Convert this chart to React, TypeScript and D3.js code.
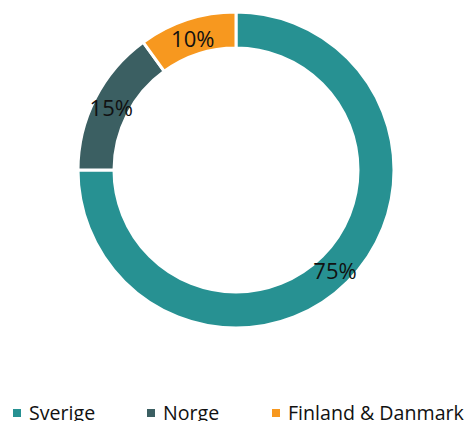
import React from 'react';
import * as d3 from 'd3';

const categories = ['Sverige', 'Norge', 'Finland & Danmark'];
const shares = [75, 15, 10];
const colors = ['#279192', '#3b5f62', '#f7981f'];

const width = 468;
const height = 421;
const cx = 236;
const cy = 170;
const outerR = 158;
const innerR = 122;

export default function App() {
  const pie = d3.pie<number>().sort(null).value(d => d)(shares);
  const arc = d3.arc<d3.PieArcDatum<number>>().innerRadius(innerR).outerRadius(outerR);
  const labelArc = d3.arc<d3.PieArcDatum<number>>().innerRadius(140).outerRadius(140);

  // legend item x positions
  const legendOffsets = [13, 147, 272];

  return (
    <svg width={width} height={height} style={{ position: 'absolute', left: 0, top: 0 }}
      fontFamily="'Open Sans', 'Noto Sans', sans-serif">
      <g transform={`translate(${cx},${cy})`}>
        {pie.map((p, i) => (
          <path key={i} d={arc(p) || ''} fill={colors[i]} stroke="#fff" strokeWidth={3} />
        ))}
        {pie.map((p, i) => {
          const [x, y] = labelArc.centroid(p);
          return (
            <text key={'l' + i} x={x} y={y + 1} textAnchor="middle" dominantBaseline="central"
              fontSize={22} fill="#111">{shares[i]}%</text>
          );
        })}
      </g>
      <g>
        {categories.map((c, i) => (
          <g key={c} transform={`translate(${legendOffsets[i]},409)`}>
            <rect x={0} y={0} width={8} height={8} fill={colors[i]} />
            <text x={16} y={11} fontSize={19.6} fill="#111">{c}</text>
          </g>
        ))}
      </g>
    </svg>
  );
}
